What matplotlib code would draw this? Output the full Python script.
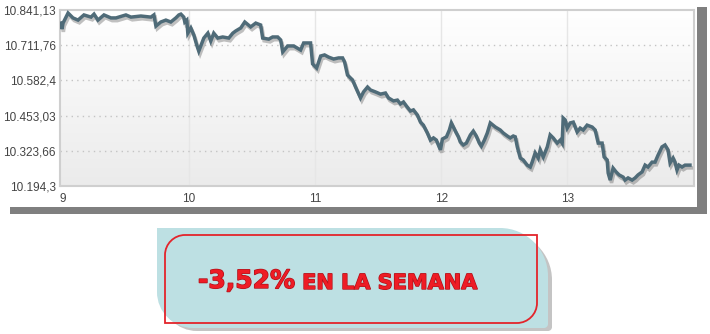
import numpy as np
import matplotlib
matplotlib.use('Agg')
import matplotlib.pyplot as plt
import matplotlib.patheffects as pe
from matplotlib.path import Path
from matplotlib.patches import PathPatch, Rectangle

# index level over the week (x = day of month, fractional)
days = [8.984, 8.992, 9.000, 9.040, 9.079, 9.119, 9.166, 9.222, 9.246, 9.277,
        9.325, 9.380, 9.420, 9.499, 9.539, 9.618, 9.697, 9.721, 9.737, 9.776,
        9.816, 9.855, 9.895, 9.919, 9.935, 9.958, 9.966, 9.982, 9.990, 10.014,
        10.038, 10.061, 10.077, 10.093, 10.117, 10.149, 10.172, 10.196, 10.228, 10.267,
        10.315, 10.347, 10.370, 10.410, 10.442, 10.489, 10.529, 10.568, 10.584, 10.632,
        10.663, 10.703, 10.727, 10.743, 10.782, 10.830, 10.885, 10.909, 10.964, 10.980,
        11.012, 11.044, 11.075, 11.107, 11.147, 11.186, 11.218, 11.234, 11.257, 11.297,
        11.321, 11.360, 11.384, 11.416, 11.440, 11.479, 11.519, 11.558, 11.582, 11.622,
        11.653, 11.677, 11.701, 11.725, 11.756, 11.780, 11.812, 11.836, 11.859, 11.891,
        11.915, 11.939, 11.962, 11.978, 11.994, 12.010, 12.042, 12.065, 12.081, 12.113,
        12.137, 12.152, 12.176, 12.200, 12.232, 12.255, 12.279, 12.303, 12.319, 12.343,
        12.366, 12.390, 12.430, 12.469, 12.493, 12.525, 12.548, 12.572, 12.588, 12.604,
        12.628, 12.651, 12.683, 12.707, 12.722, 12.746, 12.770, 12.786, 12.810, 12.842,
        12.865, 12.889, 12.921, 12.945, 12.960, 12.968, 12.984, 13.000, 13.024, 13.048,
        13.079, 13.103, 13.127, 13.158, 13.198, 13.222, 13.246, 13.277, 13.293, 13.317,
        13.325, 13.341, 13.364, 13.388, 13.412, 13.444, 13.459, 13.483, 13.515, 13.539,
        13.562, 13.594, 13.618, 13.641, 13.673, 13.697, 13.721, 13.752, 13.776, 13.800,
        13.816, 13.840, 13.855, 13.871, 13.887, 13.911, 13.935, 13.974]
index_level = [10793, 10771, 10793, 10830, 10812, 10804, 10823, 10815, 10826, 10804,
               10823, 10812, 10812, 10823, 10815, 10819, 10815, 10823, 10782, 10797,
               10804, 10797, 10812, 10823, 10826, 10815, 10797, 10804, 10756, 10775,
               10749, 10712, 10690, 10709, 10738, 10756, 10727, 10756, 10738, 10742,
               10738, 10756, 10764, 10775, 10797, 10779, 10793, 10786, 10738, 10734,
               10742, 10742, 10731, 10687, 10709, 10709, 10694, 10720, 10720, 10643,
               10628, 10672, 10676, 10668, 10661, 10665, 10665, 10650, 10602, 10584,
               10558, 10518, 10540, 10558, 10547, 10540, 10532, 10536, 10518, 10507,
               10510, 10496, 10503, 10488, 10470, 10474, 10455, 10429, 10418, 10389,
               10363, 10371, 10363, 10345, 10327, 10367, 10375, 10400, 10426, 10396,
               10375, 10356, 10345, 10352, 10382, 10396, 10378, 10352, 10341, 10363,
               10389, 10426, 10411, 10400, 10389, 10378, 10371, 10378, 10375, 10338,
               10297, 10290, 10271, 10264, 10282, 10316, 10297, 10327, 10301, 10338,
               10382, 10371, 10352, 10363, 10352, 10444, 10437, 10407, 10426, 10429,
               10393, 10407, 10400, 10418, 10411, 10400, 10352, 10352, 10301, 10290,
               10242, 10216, 10260, 10246, 10235, 10227, 10216, 10224, 10216, 10224,
               10235, 10246, 10271, 10264, 10282, 10282, 10308, 10338, 10345, 10327,
               10279, 10297, 10282, 10253, 10271, 10264, 10271, 10271]

y_ticks = [10194.3, 10323.66, 10453.03, 10582.4, 10711.76, 10841.13]
y_labels = ['10.194,3', '10.323,66', '10.453,03', '10.582,4', '10.711,76', '10.841,13']
x_ticks = [9, 10, 11, 12, 13]
x_labels = ['9', '10', '11', '12', '13']

pct_text = '-3,52%'
tail_text = ' EN LA SEMANA'

W, H = 710, 334


def corner_path(x0, y0, x1, y1, tl, tr, br, bl):
    # rectangle in pixel coords (y down) with separate corner radii
    k = 0.45
    verts = [(x0 + tl, y0), (x1 - tr, y0),
             (x1 - tr * k, y0), (x1, y0 + tr * k), (x1, y0 + tr),
             (x1, y1 - br),
             (x1, y1 - br * k), (x1 - br * k, y1), (x1 - br, y1),
             (x0 + bl, y1),
             (x0 + bl * k, y1), (x0, y1 - bl * k), (x0, y1 - bl),
             (x0, y0 + tl),
             (x0, y0 + tl * k), (x0 + tl * k, y0), (x0 + tl, y0),
             (x0 + tl, y0)]
    codes = [Path.MOVETO, Path.LINETO,
             Path.CURVE4, Path.CURVE4, Path.CURVE4,
             Path.LINETO,
             Path.CURVE4, Path.CURVE4, Path.CURVE4,
             Path.LINETO,
             Path.CURVE4, Path.CURVE4, Path.CURVE4,
             Path.LINETO,
             Path.CURVE4, Path.CURVE4, Path.CURVE4,
             Path.CLOSEPOLY]
    return Path(verts, codes)


fig = plt.figure(figsize=(W / 100, H / 100), dpi=100)
fig.patch.set_facecolor('white')

# grey drop shadow behind the chart panel
fig.add_artist(Rectangle((697 / W, (H - 214) / H), 10 / W, 207 / H,
                         transform=fig.transFigure, facecolor='#7f7f7f',
                         edgecolor='none'))
fig.add_artist(Rectangle((10 / W, (H - 214) / H), 697 / W, 7 / H,
                         transform=fig.transFigure, facecolor='#7f7f7f',
                         edgecolor='none'))

ax = fig.add_axes([60 / W, 148 / H, 634 / W, 176 / H])
ax.set_xlim(8.976, 14.006)
ax.set_ylim(y_ticks[0], y_ticks[-1])

# soft vertical gradient in the plot area
grad = np.linspace(1.0, 0.0, 256).reshape(-1, 1)
ax.imshow(grad, extent=[0, 1, 0, 1], transform=ax.transAxes, aspect='auto',
          cmap=matplotlib.colors.LinearSegmentedColormap.from_list(
              'bg', ['#ebebeb', '#ffffff']),
          zorder=0)

for d in x_ticks[1:]:
    ax.axvline(d, color='#e6e6e6', lw=1, zorder=1)
for v in y_ticks[1:-1]:
    ax.axhline(v, color='#c4c4c4', lw=1, ls=(0, (1, 3)), zorder=1)

ax.plot(
    days,
    index_level,
    color='#4f6b78',
    lw=2.5,
    solid_joinstyle='miter',
    zorder=3,
    path_effects=[pe.SimpleLineShadow(offset=(1, -2), shadow_color='#333333',
                                      alpha=0.3),
                  pe.Normal()])

ax.set_yticks(y_ticks)
ax.set_yticklabels(y_labels)
ax.set_xticks(x_ticks)
ax.set_xticklabels(x_labels)
ax.tick_params(
    axis='both',
    length=0,
    colors='#444444',
    labelsize=8.5)
ax.tick_params(axis='y', pad=3)
ax.tick_params(axis='x', pad=5)
for lab in ax.get_xticklabels() + ax.get_yticklabels():
    lab.set_fontfamily('Liberation Sans')
for sp in ax.spines.values():
    sp.set_color('#cfcfcf')
    sp.set_linewidth(1.5)

# banner below the chart, drawn in pixel coordinates
ov = fig.add_axes([0, 0, 1, 1])
ov.set_xlim(0, W)
ov.set_ylim(H, 0)
ov.axis('off')
ov.patch.set_alpha(0)

ov.add_patch(PathPatch(corner_path(161, 232, 552, 331, 0, 48, 4, 36),
                       facecolor='#8a8a8a', edgecolor='none', alpha=0.5))
ov.add_patch(PathPatch(corner_path(157, 228, 548, 328, 0, 48, 4, 36),
                       facecolor='#bde0e3', edgecolor='none'))
ov.add_patch(PathPatch(corner_path(165, 235, 537, 323, 20, 0, 20, 0),
                       facecolor='none', edgecolor='#e3242b', lw=1.3))

t1 = ov.text(
    198, 288, pct_text,
    color='#ee1c25',
    fontsize=18,
    fontweight='bold',
    family='DejaVu Sans',
    ha='left',
    va='baseline',
    path_effects=[pe.withStroke(linewidth=1, foreground='#b01018')])
ov.annotate(
    tail_text,
    xy=(1, 0),
    xycoords=t1,
    color='#ee1c25',
    fontsize=15,
    fontweight='bold',
    family='DejaVu Sans',
    ha='left',
    va='bottom',
    path_effects=[pe.withStroke(linewidth=1, foreground='#b01018')])

plt.savefig('out.png', dpi=100)
plt.close(fig)
